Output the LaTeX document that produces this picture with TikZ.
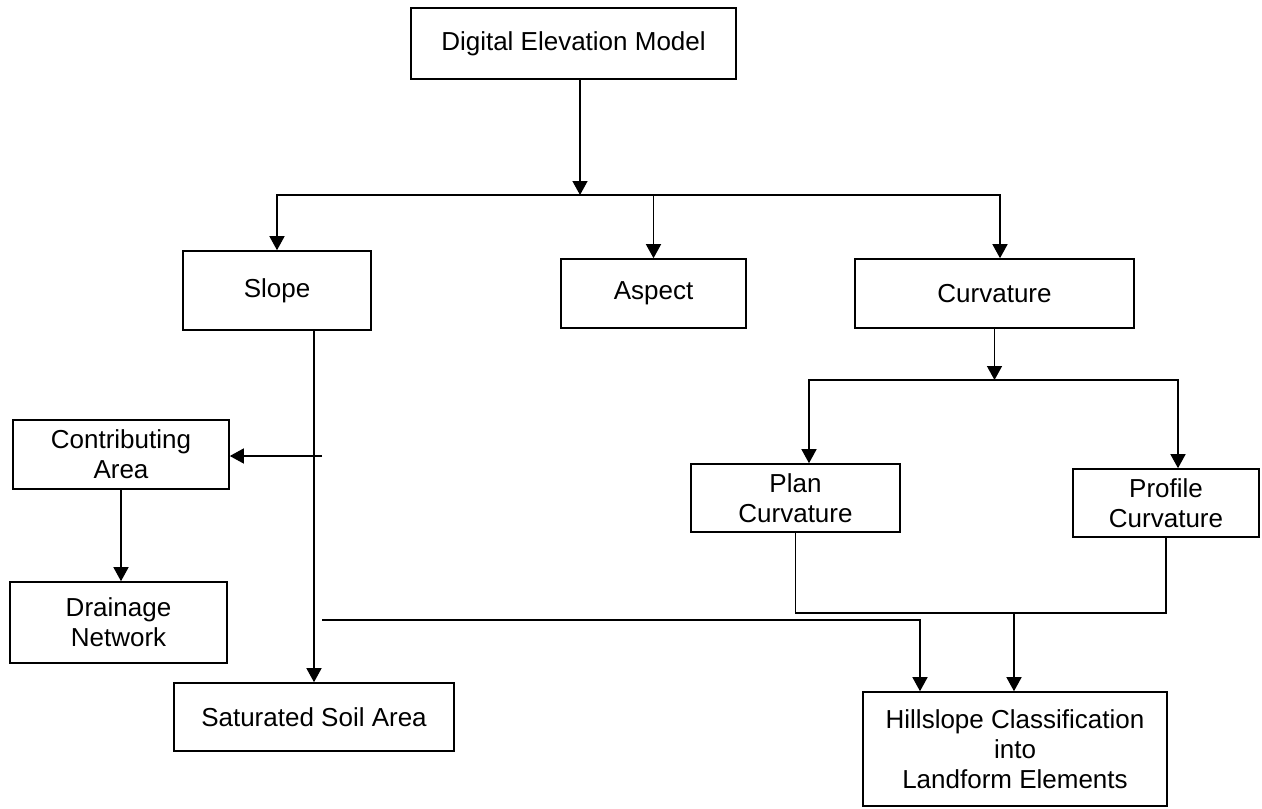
\documentclass[tikz,border=0pt]{standalone}
\usepackage{fontspec}
\setmainfont{Liberation Sans}
\usetikzlibrary{arrows.meta}
\begin{document}
\begin{tikzpicture}[x=1pt,y=-1pt,
  box/.style={draw, line width=1.6pt, rectangle, inner sep=0pt, align=center,
    font=\fontsize{26}{30}\selectfont},
  conn/.style={line width=1.4pt},
  arr/.style={conn, -{Triangle[length=14pt,width=15pt]}}]
\useasboundingbox (0,0) rectangle (1262,809);
% boxes
\node[box, minimum width=325pt, minimum height=71pt] (dem) at (573.5,43.5) {Digital Elevation Model};
\node[box, minimum width=188pt, minimum height=79pt] (slope) at (277,290.5) {Slope};
\node[box, minimum width=185pt, minimum height=69pt] (aspect) at (653.5,293.5) {Aspect};
\node[box, minimum width=279pt, minimum height=69pt] (curv) at (994.5,293.5) {Curvature};
\node[box, minimum width=216pt, minimum height=69pt] (contrib) at (121,454.5) {Contributing\\Area};
\node[box, minimum width=217pt, minimum height=81pt] (drain) at (118.5,622.5) {Drainage\\Network};
\node[box, minimum width=280pt, minimum height=68pt] (sat) at (314,717) {Saturated Soil Area};
\node[box, minimum width=209pt, minimum height=68pt] (plan) at (795.5,498) {Plan\\Curvature};
\node[box, minimum width=186pt, minimum height=68pt] (profile) at (1166,503) {Profile\\Curvature};
\node[box, minimum width=304pt, minimum height=114pt] (hill) at (1015,749) {Hillslope Classification\\into\\Landform Elements};
% junction coordinates
\coordinate (b0) at (580,195);
\coordinate (b1) at (994.5,380);
\coordinate (b2) at (1014,613);
\coordinate (c1) at (322,456);
\coordinate (c2) at (322,620);
% connectors
\draw[arr] (dem.south -| b0) -- (b0);
\draw[arr] (b0) -| (slope.north);
\draw[arr] (b0) -| (aspect.north);
\draw[arr] (b0) -| ([xshift=5.5pt]curv.north);
\draw[arr] (curv.south) -- (b1);
\draw[arr] (b1) -| ([xshift=13.5pt]plan.north);
\draw[arr] (b1) -| ([xshift=12pt]profile.north);
\draw[conn] (plan.south) |- (b2) -| (profile.south);
\draw[arr] (b2) -- (b2 |- hill.north);
\draw[arr] (sat.north |- slope.south) -- (sat.north);
\draw[arr] (c1) -- (c1 -| contrib.east);
\draw[arr] (contrib.south) -- (contrib.south |- drain.north);
\draw[arr] (c2) -| ([xshift=-95pt]hill.north);
\end{tikzpicture}
\end{document}
